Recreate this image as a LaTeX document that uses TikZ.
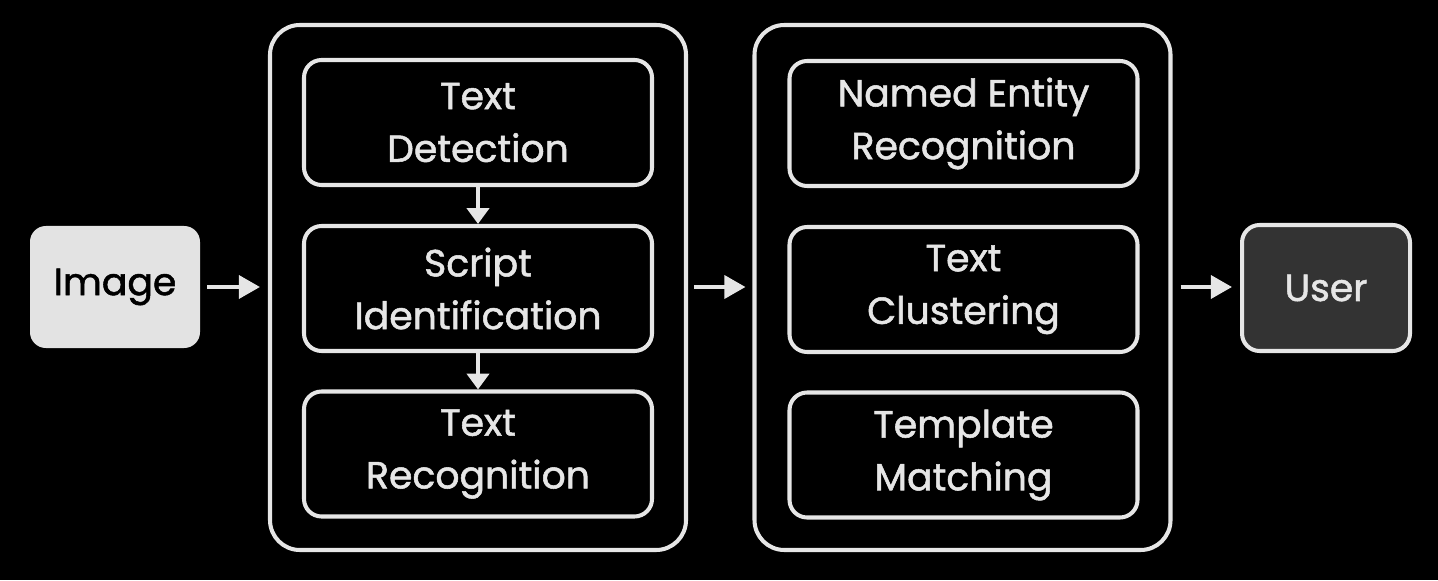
\documentclass[tikz,border=0pt]{standalone}
\usepackage{fontspec}
\setmainfont{Poppins}[FakeBold=1.4]
\usetikzlibrary{arrows.meta}
\definecolor{lineGray}{HTML}{E6E6E6}
\definecolor{imgFill}{HTML}{E3E3E3}
\definecolor{userFill}{HTML}{333333}
\tikzset{
  stage/.style={draw=lineGray,line width=2.3pt,rounded corners=17pt,minimum width=8.32cm,minimum height=10.5cm},
  step box/.style={draw=lineGray,line width=2.3pt,rounded corners=10pt,minimum width=6.96cm,minimum height=2.5cm,
    text=lineGray,align=center,font=\fontsize{21.5}{30}\selectfont},
  flow/.style={draw=lineGray,line width=2.3pt,-{Triangle[length=12pt,width=13pt]}},
  down flow/.style={draw=lineGray,line width=2.3pt,-{Triangle[length=9pt,width=12.5pt]}}
}
\begin{document}
\begin{tikzpicture}
\fill[black] (0,0) rectangle (28.76,11.6);
\useasboundingbox (0,0) rectangle (28.76,11.6);
% input and output
\node[fill=imgFill,rounded corners=9pt,minimum width=3.4cm,minimum height=2.44cm,font=\fontsize{21.5}{30}\selectfont] (image) at (2.3,5.86) {Image};
\node[fill=userFill,draw=lineGray,line width=2.3pt,rounded corners=10pt,minimum width=3.36cm,minimum height=2.52cm,text=lineGray,font=\fontsize{21.5}{30}\selectfont] (user) at (26.52,5.84) {User};
% first stage
\node[stage] (ocr) at (9.56,5.85) {};
\node[step box] (detect) at (9.56,9.15) {Text\\Detection};
\node[step box] (script) at (9.56,5.83) {Script\\Identification};
\node[step box] (recog) at (9.56,2.52) {Text\\Recognition};
% second stage
\node[stage] (post) at (19.25,5.85) {};
\node[step box] (ner) at (19.27,9.13) {Named Entity\\Recognition};
\node[step box] (cluster) at (19.27,5.81) {Text\\Clustering};
\node[step box] (match) at (19.27,2.5) {Template\\Matching};
% arrows
\draw[down flow] (detect) -- (script);
\draw[down flow] (script) -- (recog);
\draw[flow,shorten <=0.14cm,shorten >=0.16cm] (image.east) -- (image.east -| ocr.west);
\draw[flow,shorten <=0.12cm,shorten >=0.14cm] (ocr.east |- image.east) -- (post.west |- image.east);
\draw[flow,shorten <=0.16cm,shorten >=0.16cm] (post.east |- image.east) -- (post.east |- image.east -| user.west);
\end{tikzpicture}
\end{document}
